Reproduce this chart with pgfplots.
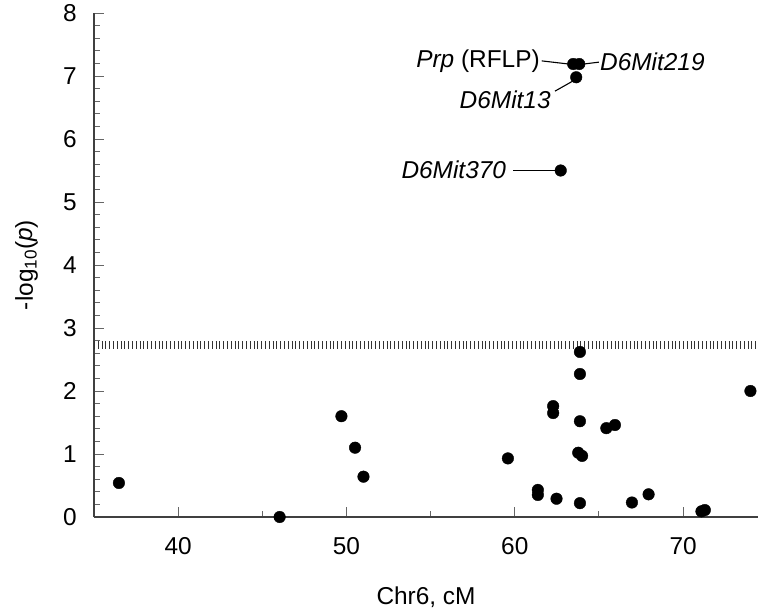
\documentclass[border=0pt]{standalone}
\usepackage{fontspec}
\setmainfont{Liberation Sans}
\usepackage{pgfplots}
\usepackage{pgfplotstable}
\pgfplotsset{compat=1.18}

% marker positions (cM, -log10 p)
\pgfplotstableread{
x y
36.48 0.54
46.03 0.00
49.70 1.60
50.51 1.10
51.01 0.64
59.59 0.93
61.37 0.43
61.37 0.35
62.28 1.76
62.28 1.65
62.48 0.29
63.87 2.62
63.87 2.27
63.87 1.52
63.77 1.02
64.00 0.97
63.87 0.22
65.44 1.41
65.95 1.46
66.96 0.23
67.95 0.36
71.09 0.09
71.29 0.11
74.00 2.00
62.73 5.50
63.65 6.98
63.47 7.19
63.83 7.19
}\markers

\begin{document}
\begin{tikzpicture}
\path[use as bounding box] (-94bp,-97bp) rectangle (664bp,517bp);
\begin{axis}[
  at={(0,0)}, anchor=south west,
  scale only axis,
  width=664bp, height=504bp,
  xmin=35, xmax=74.45,
  ymin=0, ymax=8,
  axis x line*=bottom, axis y line*=left,
  axis line style={-, black!75, line width=1.2bp},
  xtick={40,50,60,70}, minor xtick={45,55,65},
  ytick={0,1,...,8}, minor y tick num=4,
  tick align=inside,
  major tick length=10bp, minor tick length=6bp,
  every tick/.style={black!60, line width=1bp},
  font=\fontsize{24.5}{28}\selectfont,
  /pgf/number format/assume math mode=true,
  xticklabel style={inner sep=0pt, yshift=-20bp},
  yticklabel style={inner sep=0pt, xshift=-17bp},
  xlabel={Chr6, cM},
  xlabel style={at={(axis description cs:0.5,0)}, anchor=base, yshift=-87bp, inner sep=0pt},
  ylabel={-log\textsubscript{10}(\textit{p})},
  ylabel style={at={(axis description cs:-0.0919,0.5)}, anchor=base, inner sep=0pt},
  clip=false,
]
% significance threshold
\addplot[black!80, line width=8bp, dash pattern=on 1bp off 2.8bp] coordinates {(35,2.73) (74.45,2.73)};

\addplot[only marks, mark=*, mark size=5.8bp, black] table[x=x, y=y] {\markers};

\draw[black, line width=1.1bp] (axis cs:61.6,7.24) -- (axis cs:63.2,7.19);
\node[anchor=east, inner sep=1bp] at (axis cs:61.55,7.24) {\itshape Prp\upshape{} (RFLP)};
\draw[black, line width=1.1bp] (axis cs:64.1,7.19) -- (axis cs:65.0,7.22);
\node[anchor=west, inner sep=1bp] at (axis cs:65.0,7.22) {\itshape D6Mit219};
\draw[black, line width=1.1bp] (axis cs:62.39,6.76) -- (axis cs:63.45,6.92);
\node[anchor=east, inner sep=1bp] at (axis cs:62.2,6.62) {\itshape D6Mit13};
\draw[black, line width=1.1bp] (axis cs:59.9,5.50) -- (axis cs:62.4,5.50);
\node[anchor=east, inner sep=1bp] at (axis cs:59.55,5.51) {\itshape D6Mit370};
\end{axis}
\end{tikzpicture}
\end{document}
